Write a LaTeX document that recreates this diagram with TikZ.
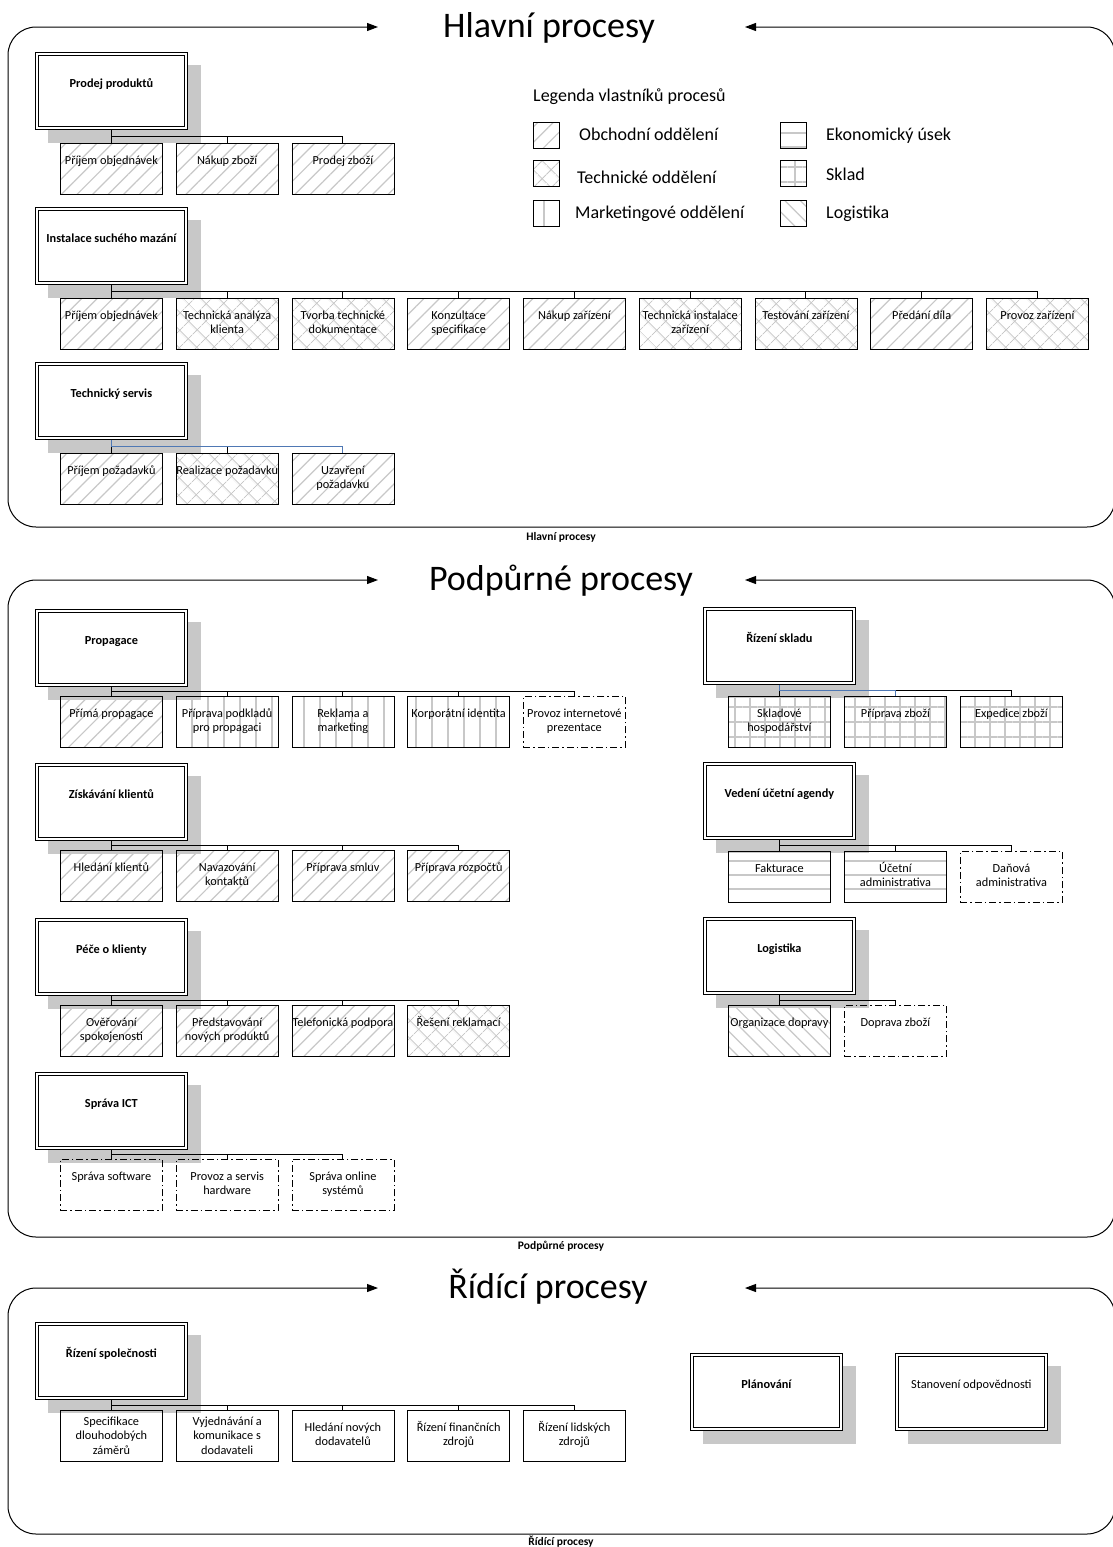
\documentclass[tikz,border=0pt]{standalone}
\usepackage{fontspec}
\setmainfont{Carlito}
\usetikzlibrary{patterns.meta,arrows.meta}
\definecolor{hatchgray}{RGB}{200,200,200}
\definecolor{shadowgray}{RGB}{200,200,200}
\definecolor{linkblue}{RGB}{79,120,180}
\newcommand\kid[5]{\node[childbox,#4,label={[ctext]north:{\strut #5}}] (#1) at (#2,#3) {};}
\newcommand\kidt[5]{\node[childbox,#4,label={[ctext,yshift=6pt]north:{\strut #5}}] (#1) at (#2,#3) {};}
\newcommand\boss[5]{\fill[shadowbox] (#2+13,#3+13) rectangle (#2+166,#3+91);
  \node[parentbox,#4,label={[ptext]north:{\strut #5}}] (#1) at (#2,#3) {};
  \draw[innerline] ([shift={(3.2pt,-3.2pt)}]#1.north west) rectangle ([shift={(-3.2pt,3.2pt)}]#1.south east);}
\newcommand\tlink[4][]{\draw[conn,#1] (#2.south) -- ++(0,#4) -| (#3.north);}
\begin{document}
\begin{tikzpicture}[x=1pt,y=-1pt,
  every node/.style={inner sep=0pt},
  frame/.style={draw=black, line width=1pt, rounded corners=28pt,
    arrows={Triangle[length=11pt,width=8pt]-Triangle[length=11pt,width=8pt]}},
  title/.style={font=\fontsize{36}{40}\selectfont, anchor=base},
  capt/.style={font=\bfseries\fontsize{11.5}{13}\selectfont, anchor=base},
  legtext/.style={font=\fontsize{18}{21}\selectfont, anchor=base west},
  legbox/.style={draw=black, line width=0.8pt, minimum width=26pt, minimum height=26pt, anchor=north west},
  shadowbox/.style={fill=shadowgray},
  parentbox/.style={draw=black, line width=0.8pt, fill=white,
    minimum width=152pt, minimum height=77pt, anchor=north west},
  innerline/.style={draw=black, line width=0.8pt},
  ptext/.style={anchor=north, yshift=-25pt, align=center, font=\bfseries\fontsize{12.3}{14.5}\selectfont},
  childbox/.style={draw=black, line width=0.8pt, minimum width=102pt, minimum height=51pt, anchor=north west},
  ctext/.style={anchor=north, yshift=-11pt, align=center, font=\fontsize{12.3}{14.5}\selectfont},
  conn/.style={draw=black, line width=0.9pt},
  ob/.style={pattern={Lines[angle=45,distance=11pt,line width=1.2pt]}, pattern color=hatchgray},
  tech/.style={pattern={Hatch[angle=45,distance=13pt,line width=1.1pt]}, pattern color=hatchgray},
  mkt/.style={pattern={Lines[angle=90,distance=16pt,line width=1.2pt]}, pattern color=hatchgray},
  eko/.style={pattern={Lines[angle=0,distance=14pt,line width=1.2pt]}, pattern color=hatchgray},
  sklad/.style={pattern={Hatch[angle=0,distance=15pt,line width=1.2pt]}, pattern color=hatchgray},
  logi/.style={pattern={Lines[angle=-45,distance=11pt,line width=1.2pt]}, pattern color=hatchgray},
  dd/.style={dash pattern=on 7pt off 3pt on 1.5pt off 3pt},
  plain/.style={}
]
\fill[white] (0,0) rectangle (1112,1547);
\useasboundingbox (0,0) rectangle (1112,1547);

% ---------- frames and titles ----------
\draw[frame] (378,27) -- (8,27) -- (8,527) -- (1115,527) -- (1115,27) -- (745,27);
\node[title] (t1) at (549,37) {Hlavní procesy};
\node[capt] (cap1) at (561,540) {Hlavní procesy};

\draw[frame] (378,580) -- (8,580) -- (8,1237) -- (1115,1237) -- (1115,580) -- (745,580);
\node[title] (t2) at (561,590) {Podpůrné procesy};
\node[capt] (cap2) at (561,1249) {Podpůrné procesy};

\draw[frame] (378,1288) -- (8,1288) -- (8,1534) -- (1115,1534) -- (1115,1288) -- (745,1288);
\node[title] (t3) at (548,1298) {Řídící procesy};
\node[capt] (cap3) at (561,1545) {Řídící procesy};

% ---------- legend ----------
\node[legtext] (lgt) at (533,101) {Legenda vlastníků procesů};
\node[legbox,ob] (lg1) at (533,122) {};
\node[legtext] (lt1) at (579,140) {Obchodní oddělení};
\node[legbox,tech] (lg2) at (533,160) {};
\node[legtext] (lt2) at (577,183) {Technické oddělení};
\node[legbox,mkt] (lg3) at (533,200) {};
\node[legtext] (lt3) at (575,218) {Marketingové oddělení};
\node[legbox,eko] (lg4) at (780,122) {};
\node[legtext] (lt4) at (826,140) {Ekonomický úsek};
\node[legbox,sklad] (lg5) at (780,160) {};
\node[legtext] (lt5) at (826,180) {Sklad};
\node[legbox,logi] (lg6) at (780,200) {};
\node[legtext] (lt6) at (826,218) {Logistika};

% ---------- Hlavní procesy ----------
\boss{P1}{35}{52}{}{Prodej produktů}
\kid{a1}{60}{143}{ob}{Příjem objednávek}
\kid{a2}{175.75}{143}{ob}{Nákup zboží}
\kid{a3}{291.5}{143}{ob}{Prodej zboží}
\foreach \c in {a1,a2,a3} {\tlink{P1}{\c}{6.5}}

\boss{P2}{35}{207}{}{Instalace suchého mazání}
\kid{b1}{60}{298}{ob}{Příjem objednávek}
\kid{b2}{175.75}{298}{tech}{Technická analýza\\klienta}
\kid{b3}{291.5}{298}{tech}{Tvorba technické\\dokumentace}
\kid{b4}{407.25}{298}{ob}{Konzultace\\specifikace}
\kid{b5}{523}{298}{ob}{Nákup zařízení}
\kid{b6}{638.75}{298}{tech}{Technická instalace\\zařízení}
\kid{b7}{754.5}{298}{tech}{Testování zařízení}
\kid{b8}{870.25}{298}{ob}{Předání díla}
\kid{b9}{986}{298}{tech}{Provoz zařízení}
\foreach \c in {b1,b2,b3,b4,b5,b6,b7,b8,b9} {\tlink{P2}{\c}{6.5}}

\boss{P3}{35}{362}{}{Technický servis}
\kid{c1}{60}{453}{ob}{Příjem požadavků}
\kid{c2}{175.75}{453}{tech}{Realizace požadavku}
\kid{c3}{291.5}{453}{ob}{Uzavření\\požadavku}
\foreach \c in {c1,c2,c3} {\tlink{P3}{\c}{6.5}}
\tlink[draw=linkblue]{P3}{c3}{6.5}

% ---------- Podpůrné procesy ----------
\boss{P4}{35}{609}{}{Propagace}
\kid{d1}{60}{696}{ob}{Přímá propagace}
\kid{d2}{175.75}{696}{mkt}{Příprava podkladů\\pro propagaci}
\kid{d3}{291.5}{696}{mkt}{Reklama a\\marketing}
\kid{d4}{407.25}{696}{mkt}{Korporátní identita}
\kid{d5}{523}{696}{dd}{Provoz internetové\\prezentace}
\foreach \c in {d1,d2,d3,d4,d5} {\tlink{P4}{\c}{5}}

\boss{P5}{35}{763}{}{Získávání klientů}
\kid{e1}{60}{850}{ob}{Hledání klientů}
\kid{e2}{175.75}{850}{ob}{Navazování\\kontaktů}
\kid{e3}{291.5}{850}{ob}{Příprava smluv}
\kid{e4}{407.25}{850}{ob}{Příprava rozpočtů}
\foreach \c in {e1,e2,e3,e4} {\tlink{P5}{\c}{5}}

\boss{P6}{35}{918}{}{Péče o klienty}
\kid{f1}{60}{1005}{ob}{Ověřování\\spokojenosti}
\kid{f2}{175.75}{1005}{ob}{Představování\\nových produktů}
\kid{f3}{291.5}{1005}{ob}{Telefonická podpora}
\kid{f4}{407.25}{1005}{tech}{Řešení reklamací}
\foreach \c in {f1,f2,f3,f4} {\tlink{P6}{\c}{5}}

\boss{P7}{35}{1072}{}{Správa ICT}
\kid{g1}{60}{1159}{dd}{Správa software}
\kid{g2}{175.75}{1159}{dd}{Provoz a servis\\hardware}
\kid{g3}{291.5}{1159}{dd}{Správa online\\systémů}
\foreach \c in {g1,g2,g3} {\tlink{P7}{\c}{5}}

\boss{P8}{703}{607}{}{Řízení skladu}
\kid{h1}{728}{696}{sklad}{Skladové\\hospodářství}
\kid{h2}{844}{696}{sklad}{Příprava zboží}
\kid{h3}{960}{696}{sklad}{Expedice zboží}
\foreach \c in {h1,h2,h3} {\tlink{P8}{\c}{6}}
\tlink[draw=linkblue]{P8}{h2}{6}

\boss{P9}{703}{762}{}{Vedení účetní agendy}
\kid{i1}{728}{851}{eko}{Fakturace}
\kid{i2}{844}{851}{eko}{Účetní\\administrativa}
\kid{i3}{960}{851}{dd}{Daňová\\administrativa}
\foreach \c in {i1,i2,i3} {\tlink{P9}{\c}{6}}

\boss{P10}{703}{917}{}{Logistika}
\kid{j1}{728}{1005}{logi}{Organizace dopravy}
\kid{j2}{844}{1005}{dd}{Doprava zboží}
\foreach \c in {j1,j2} {\tlink{P10}{\c}{6}}

% ---------- Řídící procesy ----------
\boss{P11}{35}{1322}{}{Řízení společnosti}
\kidt{k1}{60}{1410}{plain}{Specifikace\\dlouhodobých\\záměrů}
\kidt{k2}{175.75}{1410}{plain}{Vyjednávání a\\komunikace s\\dodavateli}
\kid{k3}{291.5}{1410}{plain}{Hledání nových\\dodavatelů}
\kid{k4}{407.25}{1410}{plain}{Řízení finančních\\zdrojů}
\kid{k5}{523}{1410}{plain}{Řízení lidských\\zdrojů}
\foreach \c in {k1,k2,k3,k4,k5} {\tlink{P11}{\c}{5.5}}

\boss{P12}{690}{1353}{}{Plánování}
\boss{P13}{895}{1353}{}{\mdseries Stanovení odpovědnosti}
\end{tikzpicture}
\end{document}
